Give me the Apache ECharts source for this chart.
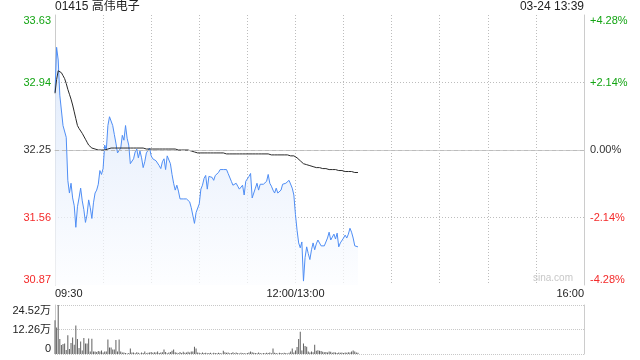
<!DOCTYPE html>
<html>
<head>
<meta charset="utf-8">
<script src="https://cdn.jsdelivr.net/npm/echarts@6/dist/echarts.min.js"></script>
<style>
html,body{margin:0;padding:0;background:#fff;}
#chart{width:640px;height:360px;}
</style>
</head>
<body>
<div id="chart"></div>
<script>
// ---- data ----
const stockTitle = '01415 高伟电子';
const stampText = '03-24 13:39';
const watermark = 'sina.com';
const preClose = 32.25;
const priceRange = 1.38;     // axis spans preClose ± priceRange (30.87 .. 33.63)
const priceStep = 0.69;
const pctRange = 4.28;
const pctStep = 2.14;
const volMax = 245200;
const volStep = 122600;
const xTickLabels = {'09:30': '09:30', '12:00': '12:00/13:00', '16:00': '16:00'};

const price = [
32.84, 33.30, 33.17, 32.81, 32.81, 32.50, 32.49, 32.38, 31.94, 31.81,
31.91, 31.76, 31.68, 31.46, 31.67, 31.76, 31.86, 31.73, 31.64, 31.51,
31.59, 31.74, 31.66, 31.55, 31.71, 31.81, 31.84, 31.90, 32.04, 32.00,
32.06, 32.30, 32.25, 32.50, 32.59, 32.58, 32.50, 32.41, 32.32, 32.22,
32.22, 32.27, 32.40, 32.35, 32.50, 32.37, 32.30, 32.11, 32.11, 32.16,
32.23, 32.26, 32.17, 32.24, 32.17, 32.07, 32.13, 32.22, 32.23, 32.27,
32.19, 32.16, 32.15, 32.14, 32.13, 32.09, 32.06, 32.13, 32.16, 32.05,
32.19, 32.19, 32.11, 32.00, 31.91, 31.84, 31.89, 31.83, 31.75, 31.77,
31.75, 31.74, 31.75, 31.74, 31.72, 31.66, 31.64, 31.50, 31.61, 31.61,
31.70, 31.85, 31.89, 31.96, 31.99, 31.85, 31.98, 31.98, 31.97, 31.94,
31.99, 32.01, 32.02, 32.05, 32.04, 32.05, 32.05, 32.05, 32.01, 32.00,
31.93, 31.89, 31.91, 31.91, 31.88, 31.85, 31.85, 31.89, 31.79, 31.93,
31.94, 31.98, 32.01, 31.76, 31.76, 31.86, 31.91, 31.84, 31.90, 31.91,
31.90, 31.91, 31.93, 32.00, 31.91, 31.88, 31.84, 31.81, 31.86, 31.81,
31.82, 31.84, 31.90, 31.91, 31.91, 31.91, 31.94, 31.92, 31.86, 31.79,
31.59, 31.43, 31.30, 31.25, 31.31, 30.91, 31.15, 31.26, 31.19, 31.13,
31.23, 31.30, 31.23, 31.29, 31.33, 31.35, 31.27, 31.26, 31.27, 31.27,
31.35, 31.41, 31.33, 31.36, 31.39, 31.34, 31.40, 31.26, 31.30, 31.32,
31.35, 31.38, 31.35, 31.39, 31.45, 31.41, 31.35, 31.27, 31.26, 31.26
];

const avgPrice = [
32.83, 32.97, 33.06, 33.05, 33.04, 33.01, 32.98, 32.93, 32.87, 32.82,
32.77, 32.71, 32.64, 32.57, 32.50, 32.47, 32.45, 32.42, 32.40, 32.36,
32.33, 32.30, 32.28, 32.27, 32.26, 32.26, 32.25, 32.25, 32.25, 32.25,
32.25, 32.25, 32.26, 32.26, 32.27, 32.27, 32.27, 32.27, 32.27, 32.27,
32.27, 32.27, 32.27, 32.27, 32.27, 32.27, 32.27, 32.27, 32.27, 32.27,
32.27, 32.27, 32.27, 32.27, 32.27, 32.27, 32.26, 32.26, 32.26, 32.26,
32.26, 32.26, 32.26, 32.26, 32.26, 32.26, 32.26, 32.26, 32.26, 32.26,
32.26, 32.26, 32.26, 32.26, 32.26, 32.26, 32.26, 32.25, 32.25, 32.25,
32.25, 32.25, 32.25, 32.25, 32.25, 32.24, 32.24, 32.23, 32.22, 32.22,
32.22, 32.22, 32.22, 32.22, 32.22, 32.22, 32.22, 32.22, 32.22, 32.22,
32.22, 32.22, 32.22, 32.22, 32.22, 32.22, 32.22, 32.21, 32.21, 32.21,
32.21, 32.21, 32.21, 32.21, 32.21, 32.21, 32.21, 32.21, 32.21, 32.21,
32.21, 32.21, 32.21, 32.21, 32.21, 32.21, 32.21, 32.21, 32.21, 32.21,
32.21, 32.21, 32.21, 32.21, 32.20, 32.20, 32.20, 32.20, 32.20, 32.20,
32.20, 32.20, 32.20, 32.20, 32.20, 32.20, 32.19, 32.19, 32.19, 32.19,
32.18, 32.17, 32.15, 32.14, 32.12, 32.11, 32.10, 32.10, 32.09, 32.09,
32.08, 32.08, 32.07, 32.07, 32.07, 32.07, 32.06, 32.06, 32.06, 32.06,
32.05, 32.05, 32.05, 32.05, 32.05, 32.05, 32.04, 32.04, 32.04, 32.04,
32.04, 32.03, 32.03, 32.03, 32.03, 32.03, 32.02, 32.02, 32.02, 32.02
];

const volume = [
169000, 133000, 245200, 75000, 45000, 50000, 53000, 20000, 94000, 25000,
55000, 83000, 46000, 143000, 75000, 30000, 63000, 17000, 80000, 53000,
53000, 78000, 13000, 76000, 13000, 12000, 10000, 15000, 13000, 17000,
8000, 12000, 13000, 73000, 33000, 33000, 23000, 22000, 70000, 13000,
73000, 12000, 8000, 7000, 5000, 3000, 5000, 28000, 8000, 7000,
4000, 9000, 6000, 3000, 8000, 5000, 12000, 4000, 6000, 8000,
10000, 6000, 9000, 7000, 12000, 5000, 8000, 9000, 23000, 10000,
4000, 8000, 10000, 16000, 23000, 9000, 6000, 4000, 10000, 5000,
11000, 6000, 8000, 11000, 7000, 13000, 13000, 36000, 28000, 8000,
6000, 4000, 7000, 5000, 6000, 4000, 5000, 6000, 3000, 6000,
5000, 4000, 6000, 5000, 3000, 16000, 9000, 6000, 8000, 4000,
5000, 9000, 4000, 7000, 5000, 3000, 6000, 4000, 5000, 3000,
5000, 7000, 13000, 9000, 6000, 5000, 4000, 7000, 5000, 3000,
5000, 4000, 6000, 5000, 8000, 4000, 28000, 6000, 5000, 3000,
6000, 5000, 4000, 6000, 5000, 3000, 6000, 12000, 28000, 8000,
18000, 35000, 75000, 111000, 18000, 52000, 40000, 36000, 12000, 8000,
13000, 9000, 46000, 16000, 19000, 16000, 15000, 11000, 9000, 10000,
8000, 13000, 11000, 6000, 9000, 7000, 5000, 8000, 6000, 7000,
5000, 8000, 6000, 9000, 7000, 12000, 17000, 13000, 8000, 6000
];

// ---- categories: trading minutes 09:30-12:00, 13:01-16:00 ----
function hhmm(m) {
  const h = Math.floor(m / 60), mm = m % 60;
  return (h < 10 ? '0' : '') + h + ':' + (mm < 10 ? '0' : '') + mm;
}
const minutes = [];
for (let m = 570; m <= 720; m++) minutes.push(hhmm(m));
for (let m = 781; m <= 960; m++) minutes.push(hhmm(m));

// ---- styles ----
const FONT = "Arial, 'Liberation Sans', 'Noto Sans CJK SC', sans-serif";
const UP = '#14a514', DOWN = '#f42a2a', FLAT = '#333';
const GRIDC = '#bdbdbd';
function signColor(v) {
  v = Number(v);
  if (Math.abs(v) < 1e-9) return FLAT;
  return v > 0 ? UP : DOWN;
}

const chart = echarts.init(document.getElementById('chart'), null, {renderer: 'canvas'});
const priceOff = price.map(p => +(p - preClose).toFixed(4));
const avgOff = avgPrice.map(p => +(p - preClose).toFixed(4));

chart.setOption({
  animation: false,
  backgroundColor: '#fff',
  textStyle: {fontFamily: FONT},
  title: [
    {text: stockTitle, left: 55, top: 1, padding: 0,
     textStyle: {fontSize: 12, fontWeight: 'normal', color: '#222', fontFamily: FONT}},
    {text: stampText, right: 56, top: 1, padding: 0,
     textStyle: {fontSize: 12, fontWeight: 'normal', color: '#222', fontFamily: FONT}}
  ],
  graphic: [
    {type: 'text', right: 67, top: 273, z: 1,
     style: {text: watermark, fill: '#c8c8c8', font: '10px ' + FONT}}
  ],
  grid: [
    {left: 55, right: 56, top: 15, height: 270},
    {left: 55, right: 56, top: 305, height: 49}
  ],
  xAxis: [
    {type: 'category', gridIndex: 0, data: minutes, boundaryGap: false,
     axisLine: {show: true, lineStyle: {color: '#ccc'}},
     axisTick: {show: false},
     axisLabel: {
       interval: (i, v) => v in xTickLabels,
       formatter: v => xTickLabels[v] || '',
       color: '#222', fontSize: 11, margin: 3, fontFamily: FONT,
       alignMinLabel: 'left', alignMaxLabel: 'right'
     },
     splitLine: {show: true, interval: (i) => i % 30 === 0 && i !== 0 && i !== 330,
       lineStyle: {color: GRIDC, type: [1, 2], width: 1}}
    },
    {type: 'category', gridIndex: 1, data: minutes, boundaryGap: false,
     axisLine: {show: false}, axisTick: {show: false},
     axisLabel: {show: false}, splitLine: {show: false}}
  ],
  yAxis: [
    {type: 'value', gridIndex: 0, position: 'left',
     min: -priceRange, max: priceRange, interval: priceStep,
     axisLine: {show: true, lineStyle: {color: '#ccc'}},
     axisTick: {show: false},
     axisLabel: {
       formatter: v => (preClose + v).toFixed(2),
       color: (v) => signColor(v),
       fontSize: 11, margin: 4, fontFamily: FONT,
       verticalAlignMinLabel: 'bottom', verticalAlignMaxLabel: 'top'
     },
     splitLine: {show: true,
       lineStyle: {color: ['rgba(0,0,0,0)', GRIDC, 'rgba(0,0,0,0)', GRIDC, 'rgba(0,0,0,0)'],
                   type: [1, 2], width: 1}}
    },
    {type: 'value', gridIndex: 0, position: 'right',
     min: -pctRange, max: pctRange, interval: pctStep,
     axisLine: {show: true, lineStyle: {color: '#ccc'}},
     axisTick: {show: false},
     axisLabel: {
       formatter: v => (v > 0 ? '+' : '') + v.toFixed(2) + '%',
       color: (v) => signColor(v),
       fontSize: 11, margin: 6, fontFamily: FONT,
       verticalAlignMinLabel: 'bottom', verticalAlignMaxLabel: 'top'
     },
     splitLine: {show: false}
    },
    {type: 'value', gridIndex: 1, position: 'left',
     min: 0, max: volMax, interval: volStep,
     axisLine: {show: true, lineStyle: {color: '#ccc'}},
     axisTick: {show: false},
     axisLabel: {
       formatter: v => v === 0 ? '0' : (v / 10000).toFixed(2) + '万',
       color: '#222', fontSize: 11, margin: 4, fontFamily: FONT,
       verticalAlignMinLabel: 'bottom', verticalAlignMaxLabel: 'top'
     },
     splitLine: {show: true, lineStyle: {color: '#c8c8c8', type: [1, 1], width: 1}}
    },
    {type: 'value', gridIndex: 1, position: 'right',
     min: 0, max: volMax, interval: volStep,
     axisLine: {show: true, lineStyle: {color: '#ccc'}},
     axisTick: {show: false}, axisLabel: {show: false}, splitLine: {show: false}
    }
  ],
  series: [
    {name: 'price', type: 'line', xAxisIndex: 0, yAxisIndex: 0, data: priceOff,
     showSymbol: false, symbol: 'none', smooth: false,
     lineStyle: {color: '#4f8ef5', width: 1},
     areaStyle: {origin: 'start',
       color: new echarts.graphic.LinearGradient(0, 0, 0, 1, [
         {offset: 0, color: '#d3e2fa'}, {offset: 1, color: '#fcfdff'}])},
     markLine: {silent: true, symbol: 'none', label: {show: false},
       lineStyle: {color: '#bcbcbc', type: [4, 3], width: 1},
       emphasis: {disabled: true},
       data: [{yAxis: 0}]},
     z: 3
    },
    {name: 'avg', type: 'line', xAxisIndex: 0, yAxisIndex: 0, data: avgOff,
     showSymbol: false, symbol: 'none',
     lineStyle: {color: '#2a2a2a', width: 1}, z: 4
    },
    {name: 'volume', type: 'bar', xAxisIndex: 1, yAxisIndex: 2, data: volume,
     barWidth: 1, itemStyle: {color: '#606060'}, large: false
    }
  ]
});
</script>
</body>
</html>
